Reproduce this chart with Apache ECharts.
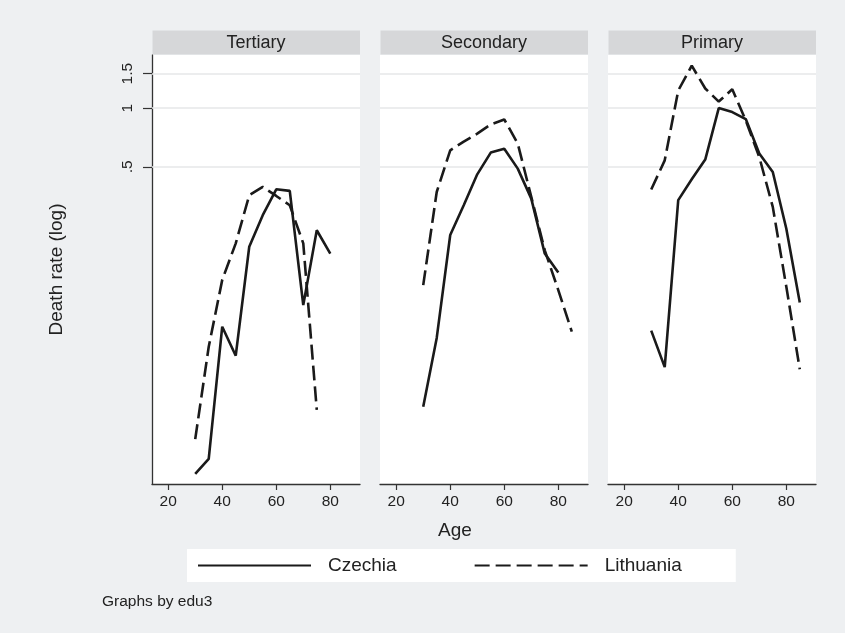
<!DOCTYPE html>
<html>
<head>
<meta charset="utf-8">
<script src="https://cdn.jsdelivr.net/npm/echarts@6/dist/echarts.min.js"></script>
<style>
html,body{margin:0;padding:0;background:#eef0f2;}
#main{width:845px;height:633px;}
</style>
</head>
<body>
<div id="main"></div>
<script>
// data (death rate, log scale)
var ages = [30, 35, 40, 45, 50, 55, 60, 65, 70, 75, 80, 85];
var panelNames = ['Tertiary', 'Secondary', 'Primary'];
var czTertiary = [0.0134, 0.016, 0.076, 0.054, 0.195, 0.283, 0.384, 0.377, 0.098, 0.237, 0.18];
var ltTertiary = [0.0202, 0.060, 0.132, 0.203, 0.358, 0.395, 0.355, 0.318, 0.203, 0.0285];
var czSecondary = [0.0296, 0.0666, 0.224, 0.318, 0.458, 0.592, 0.62, 0.49, 0.344, 0.18, 0.144];
var ltSecondary = [0.124, 0.372, 0.608, 0.674, 0.74, 0.825, 0.875, 0.658, 0.351, 0.187, 0.117, 0.0717];
var czPrimary = [0.0726, 0.0472, 0.338, 0.432, 0.545, 1.0, 0.954, 0.879, 0.585, 0.471, 0.242, 0.101];
var ltPrimary = [0.383, 0.54, 1.23, 1.65, 1.26, 1.08, 1.25, 0.865, 0.562, 0.312, 0.122, 0.046];
var xTicks = [20, 40, 60, 80];
var yTicks = [0.5, 1, 1.5];
var yTickLabels = ['.5', '1', '1.5'];

var czech = [czTertiary, czSecondary, czPrimary];
var lith = [ltTertiary, ltSecondary, ltPrimary];

var FONT = 'Liberation Sans, Arial, Helvetica, sans-serif';
var INK = '#222';
var panelLeft = [152, 380, 608];
var panelW = 208;

function pairs(vals) {
  return vals.map(function (v, i) { return [ages[i], v]; });
}

var chart = echarts.init(document.getElementById('main'));

var grids = [], xAxes = [], yAxes = [], series = [], graphics = [];

for (var p = 0; p < 3; p++) {
  grids.push({ left: panelLeft[p], top: 55, width: panelW, height: 429, backgroundColor: '#fff', show: true, borderWidth: 0 });
  xAxes.push({
    type: 'value', gridIndex: p, min: 14, max: 91,
    axisLine: { show: true, lineStyle: { color: '#333', width: 1.3 } },
    axisTick: { show: true, length: 6, lineStyle: { color: '#333', width: 1.2 }, customValues: xTicks },
    axisLabel: { color: INK, fontSize: 15.5, fontFamily: FONT, margin: 10, customValues: xTicks },
    splitLine: { show: false }
  });
  yAxes.push({
    type: 'log', gridIndex: p, min: 0.0119, max: 1.87, logBase: Math.E,
    show: p === 0,
    name: p === 0 ? 'Death rate (log)' : '',
    nameLocation: 'middle', nameGap: 86,
    nameTextStyle: { color: INK, fontSize: 19, fontFamily: FONT },
    axisLine: { show: true, lineStyle: { color: '#333', width: 1.3 } },
    axisTick: { show: true, length: 9, lineStyle: { color: '#333', width: 1.2 }, customValues: yTicks },
    axisLabel: {
      color: INK, fontSize: 15.5, fontFamily: FONT, rotate: 90, margin: 16,
      customValues: yTicks,
      formatter: function (v) {
        var i = yTicks.indexOf(+(+v).toFixed(3));
        return i >= 0 ? yTickLabels[i] : '';
      }
    },
    splitLine: { show: false }
  });
  series.push({
    name: 'Czechia', type: 'line', xAxisIndex: p, yAxisIndex: p,
    data: pairs(czech[p]), symbol: 'none', z: 3,
    lineStyle: { color: '#1a1a1a', width: 2.6 },
    itemStyle: { color: '#1a1a1a' },
    markLine: {
      silent: true, symbol: 'none', z: 1,
      label: { show: false },
      lineStyle: { color: '#e6e7e9', width: 1.6, type: 'solid' },
      data: yTicks.map(function (t) { return { yAxis: t }; })
    }
  });
  series.push({
    name: 'Lithuania', type: 'line', xAxisIndex: p, yAxisIndex: p,
    data: pairs(lith[p]), symbol: 'none', z: 3,
    lineStyle: { color: '#1a1a1a', width: 2.6, type: [15, 6] },
    itemStyle: { color: '#1a1a1a' }
  });
  graphics.push({
    type: 'rect', shape: { x: panelLeft[p] + 0.5, y: 30.5, width: panelW - 0.5, height: 24 },
    style: { fill: '#d6d7d9' }, z: 10
  });
  graphics.push({
    type: 'text', x: panelLeft[p] + panelW / 2, y: 43, z: 11,
    style: { text: panelNames[p], font: '18px ' + FONT, fill: INK, textAlign: 'center', textVerticalAlign: 'middle' }
  });
}

graphics.push({
  type: 'text', x: 455, y: 531, z: 11,
  style: { text: 'Age', font: '19px ' + FONT, fill: INK, textAlign: 'center', textVerticalAlign: 'middle' }
});
graphics.push({
  type: 'text', x: 102, y: 602, z: 11,
  style: { text: 'Graphs by edu3', font: '15.5px ' + FONT, fill: INK, textAlign: 'left', textVerticalAlign: 'middle' }
});

var option = {
  backgroundColor: '#eef0f2',
  animation: false,
  grid: grids,
  xAxis: xAxes,
  yAxis: yAxes,
  series: series,
  legend: {
    data: ['Czechia', 'Lithuania'],
    left: 187, top: 549,
    backgroundColor: '#fff',
    padding: [7, 54, 7, 10],
    itemWidth: 113, itemHeight: 20, itemGap: 77,
    itemStyle: { opacity: 0 },
    textStyle: { color: INK, fontSize: 19, fontFamily: FONT, padding: [0, 0, 0, 12] }
  },
  graphic: graphics
};
chart.setOption(option);
</script>
</body>
</html>
